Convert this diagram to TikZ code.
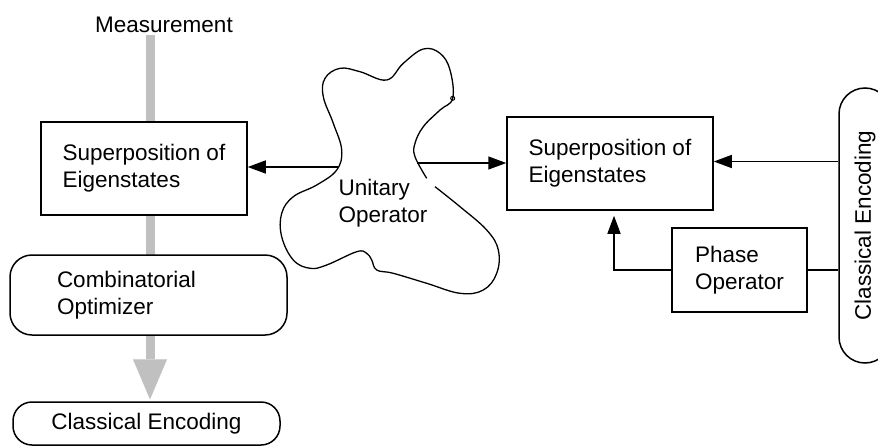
\documentclass[tikz,border=0pt]{standalone}
\usepackage{fontspec}
\setmainfont{Liberation Sans}
\usepackage{graphicx}
\usetikzlibrary{arrows.meta,calc,backgrounds}
\definecolor{barGray}{RGB}{192,192,192}
\begin{document}
\begin{tikzpicture}[x=1pt,y=-1pt,
  font=\fontsize{22.5}{27}\selectfont,
  box/.style={draw, line width=1.5pt, fill=white, align=left, inner sep=0pt},
  pill/.style={box},
  link/.style={line width=1.5pt},
  conn/.style={link, -{Triangle[length=18pt,width=13pt]}},
  flow/.style={draw=barGray, line width=9pt, -{Triangle[length=40pt,width=34pt,line width=0.01pt]}},
  blob/.style={line width=1.3pt}]
\path[use as bounding box] (0,0) rectangle (878,447);

% left column
\node (meas) at (164,25) {Measurement};
\coordinate (gtop) at (150,35);
\node[box, minimum width=206pt, minimum height=93pt] (lsup) at (144,168.5) {Superposition of\\Eigenstates};
\node[pill, rounded corners=22pt, minimum height=80pt, text width=183pt, inner xsep=47pt] (combo) at (148.5,295) {Combinatorial\\Optimizer};
\node[pill, rounded corners=19pt, minimum width=267pt, minimum height=43pt] (enc1) at (146.5,423.5) {Classical Encoding};

% thick grey flow behind the left column
\begin{scope}[on background layer]
  \draw[flow, shorten >=2pt] (gtop) -- (gtop |- enc1.north);
\end{scope}

% unitary operator outline
\draw[blob] plot[smooth, tension=0.65] coordinates {
  (435,186.7) (460,206.7) (486.7,230) (498.3,250) (496.7,273.3) (483.3,290)
  (460,293.3) (426.7,283.3) (393.3,273.3) (376.7,270) (371.7,260) (366.7,253.3)
  (356.7,251.7) (326.7,265) (310,268.3) (293.3,260) (281.7,236.7) (281.7,213.3)
  (293.3,196.7) (316.7,185) (336.7,170) (341.7,150) (333.3,123.3) (323.3,96.7)
  (325,78.3) (340,68.3) (360,71.7) (386.7,80) (403.3,63.3) (423.3,49) (440,53.3)
  (450,70) (452.7,98.3) (440,110) (423.3,126.7) (415,143.3) (415,156.7) (426.7,178.3)};
\draw[line width=1pt] (452.7,98.3) circle (2pt);
\node[align=left] (unitary) at (383,203) {Unitary\\Operator};
\coordinate (uL) at (338,167);
\coordinate (uR) at (417,163);

% right column
\node[box, minimum width=206pt, minimum height=93pt] (rsup) at (610,163.5) {Superposition of\\Eigenstates};
\node[box, minimum width=135pt, minimum height=84pt] (phase) at (739.5,270) {Phase\\Operator};
\node[pill, rounded corners=26pt, minimum width=52pt, minimum height=275pt] (enc2) at (865,225.5) {\rotatebox{90}{Classical Encoding}};

% connectors
\draw[conn] (uL) -- (uL -| lsup.east);
\draw[conn] (uR) -- (uR -| rsup.west);
\draw[conn] ([yshift=2pt]rsup.east -| enc2.west) -- ([yshift=2pt]rsup.east);
\draw[link] (phase.east) -- (phase.east -| enc2.west);
\draw[conn, shorten >=5pt] (phase.west) -| ([xshift=4pt]rsup.south);
\end{tikzpicture}
\end{document}
